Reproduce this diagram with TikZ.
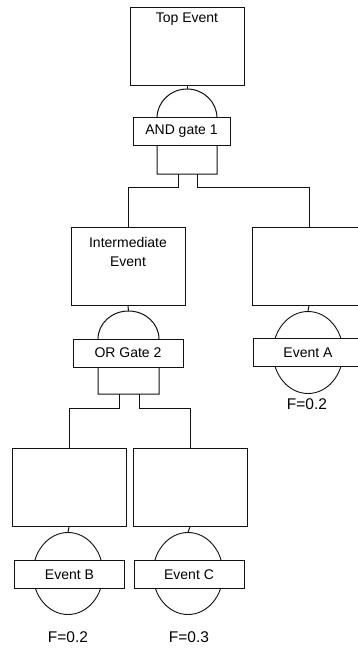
\documentclass[tikz,border=0pt]{standalone}
\usepackage{fontspec}
\setmainfont{Liberation Sans}
\usepackage{tikz}
\usetikzlibrary{positioning, shapes.geometric}
\definecolor{ink}{HTML}{111111}

\tikzset{
  evbox/.style={draw=ink, line width=0.9pt, minimum width=114pt, minimum height=78pt, inner sep=0pt},
  tagbox/.style={draw=ink, fill=white, line width=0.9pt, minimum width=110pt, minimum height=28pt,
    inner sep=0pt, font=\fontsize{14}{16}\selectfont},
  basic/.style={draw=ink, line width=0.9pt, ellipse, minimum width=70pt, minimum height=82pt, inner sep=0pt},
  wire/.style={draw=ink, line width=1pt},
  txt/.style={font=\fontsize{14}{19}\selectfont, align=center, inner sep=0pt},
  prob/.style={font=\fontsize{15.5}{18}\selectfont, inner sep=0pt}
}

\begin{document}
\begin{tikzpicture}[x=1pt, y=-1pt]
  \clip (0,0) rectangle (358,651);

  % Event boxes
  \foreach \n/\x/\y in {top/187/46.5, mid/128/266.5, boxa/309/266, boxb/69/487.5, boxc/190/487.5} {
    \node[evbox] (\n) at (\x,\y) {};
  }
  \node[txt, below=6pt of top.north] (toptxt) {Top Event};
  \node[txt, below=10pt of mid.north] (midtxt) {Intermediate\\Event};

  % AND gate
  \coordinate (andtop) at (187,89);
  \coordinate (andin1) at (178,174);
  \coordinate (andin2) at (197,174);
  \draw[wire] (157,174) -- (157,118) arc[start angle=180, end angle=360, x radius=30, y radius=29]
    -- (217,174) -- cycle;
  \node[tagbox, minimum width=97pt] (andtag) at (181.5,131.5) {AND gate 1};
  \draw[wire] (top.south) -- (andtop);
  \draw[wire] (andin1) -- ++(0,13) -| (mid.north);
  \draw[wire] (andin2) -- ++(0,13) -| (boxa.north);

  % OR gate
  \coordinate (ortop) at (128.5,311);
  \coordinate (orin1) at (119,394);
  \coordinate (orin2) at (139,394);
  \draw[wire] (98,394) -- (98,339) arc[start angle=180, end angle=360, x radius=30.5, y radius=28]
    -- (159,394) -- cycle;
  \node[tagbox] (ortag) at (128,353) {OR Gate 2};
  \draw[wire] (mid.south) -- (ortop);
  \draw[wire] (orin1) -- ++(0,14) -| (boxb.north);
  \draw[wire] (orin2) -- ++(0,14) -| (boxc.north);

  % Basic events
  \foreach \n/\x/\y in {evA/308/352.5, evB/68/573.5, evC/188/573.5} {
    \node[basic] (\n) at (\x,\y) {};
  }
  \draw[wire] (boxa.south) -- (evA.north);
  \draw[wire] (boxb.south) -- (evB.north);
  \draw[wire] (boxc.south) -- (evC.north);
  \node[tagbox] (tagA) at (308,352.5) {Event A};
  \node[tagbox] (tagB) at (69.5,574.5) {Event B};
  \node[tagbox] (tagC) at (189,574.5) {Event C};

  % Probabilities
  \node[prob] (fA) at (307,404) {F=0.2};
  \node[prob] (fB) at (68,637) {F=0.2};
  \node[prob] (fC) at (189,637) {F=0.3};
\end{tikzpicture}
\end{document}
